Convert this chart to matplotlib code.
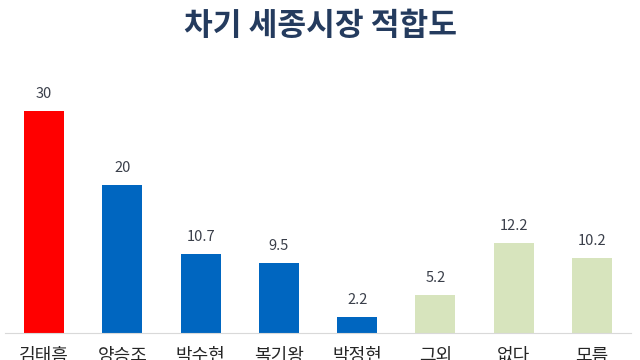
import matplotlib
matplotlib.use("Agg")
import matplotlib.pyplot as plt

plt.rcParams['font.family'] = ['Noto Sans CJK KR', 'DejaVu Sans']

categories = ["김태흠", "양승조", "박수현", "복기왕", "박정현", "그외", "없다", "모름"]
values = [30, 20, 10.7, 9.5, 2.2, 5.2, 12.2, 10.2]
colors = ["#FF0000", "#0066C0", "#0066C0", "#0066C0", "#0066C0", "#D7E4BD", "#D7E4BD", "#D7E4BD"]
title = "차기 세종시장 적합도"

fig = plt.figure(figsize=(6.4, 3.6), dpi=100)
ax = fig.add_axes([5/640, 27/360, 626/640, 259/360])
x = range(len(categories))
ax.bar(x, values, width=0.51, color=colors, zorder=2)
ax.set_xlim(-0.5, len(categories) - 0.5)
ax.set_ylim(0, 35)
for i, v in zip(x, values):
    ax.text(i, v + 1.3, f"{v:g}", ha="center", va="bottom", fontsize=10.5, color="#3A3F4A")
for s in ["top", "right", "left"]:
    ax.spines[s].set_visible(False)
ax.spines["bottom"].set_color("#D9D9D9")
ax.set_yticks([])
ax.set_xticks(list(x))
ax.set_xticklabels(categories, fontsize=13, color="#262626")
ax.tick_params(axis="x", length=0, pad=10)
fig.text(0.5, 1 - 26/360, title, ha="center", va="center", fontsize=22.5, fontweight="bold", color="#243B5E")
fig.savefig("out.png", dpi=100)
